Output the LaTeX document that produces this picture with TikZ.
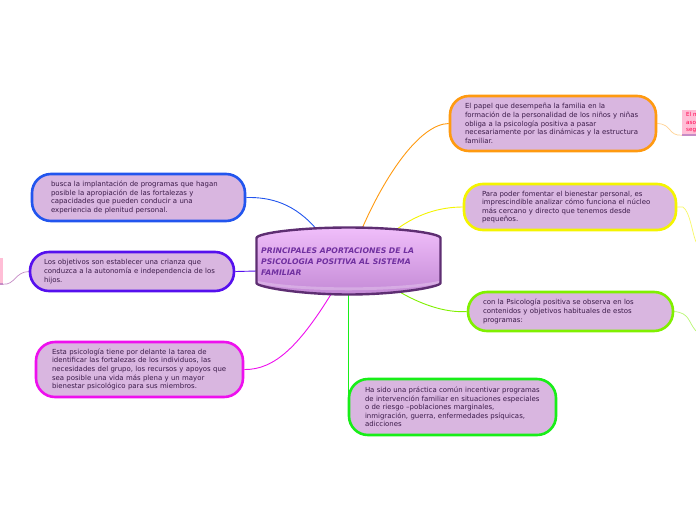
\documentclass[tikz,border=0pt]{standalone}
\usepackage{fontspec}
\setmainfont{DejaVu Sans}
\pgfdeclarelayer{bg}
\pgfsetlayers{bg,main}
\begin{document}
\begin{tikzpicture}[x=1pt,y=-1pt,
  txt/.style={font=\fontsize{6.95}{8.6}\selectfont, text=txtc, align=left},
  topic/.style={txt, draw=#1, line width=2.6pt, fill=boxfill, rounded corners=19pt, inner xsep=0pt, inner ysep=0pt},
  conn/.style={draw=#1, line width=0.9pt},
]
\definecolor{boxfill}{HTML}{D9B6E0}
\definecolor{txtc}{HTML}{3A1A48}
\definecolor{corange}{HTML}{FF9A10}
\definecolor{cyellow}{HTML}{F4F400}
\definecolor{clime}{HTML}{80F000}
\definecolor{cgreen}{HTML}{18EE18}
\definecolor{cblue}{HTML}{2255EE}
\definecolor{cviolet}{HTML}{5510EE}
\definecolor{cmagenta}{HTML}{EE10EE}
\definecolor{ctrborder}{HTML}{5E2E72}
\definecolor{ctrtext}{HTML}{7030A0}
\definecolor{ctrtop}{HTML}{F0BEFA}
\definecolor{ctrbot}{HTML}{C48AD6}
\definecolor{pinkbox}{HTML}{FFBED6}
\clip (0,0) rectangle (696,520);
\begin{pgfonlayer}{bg}
\fill[white] (0,0) rectangle (696,520);
\end{pgfonlayer}

% central node
\shade[top color=ctrtop, bottom color=ctrbot, draw=ctrborder, line width=2.4pt]
  (256.5,238) -- (256.5,283) .. controls (257,287) and (300,294.5) .. (348.5,294.5)
  .. controls (397,294.5) and (440,287) .. (440.5,283)
  -- (440.5,238) .. controls (440,233) and (397,227.5) .. (348.5,227.5)
  .. controls (300,227.5) and (257,233) .. (256.5,238) -- cycle;
\fill[white, opacity=0.25] (258,281) .. controls (300,289.5) and (397,289.5) .. (439,281) -- (439,283.5) .. controls (397,292.5) and (300,292.5) .. (258,283.5) -- cycle;
\node[minimum width=185pt, minimum height=63pt, inner sep=0pt] (ctr) at (348.5,260.5) {};
\node[anchor=west, inner sep=0pt, font=\fontsize{7.7}{11}\selectfont\bfseries\itshape, text=ctrtext, align=left] (ctrt) at (261,262)
 {PRINCIPALES APORTACIONES DE LA\\PSICOLOGIA POSITIVA AL SISTEMA\\FAMILIAR};
\coordinate (cO) at (361,231);
\coordinate (cY) at (392,233);
\coordinate (cL) at (398,291);
\coordinate (cG) at (348,292);
\coordinate (cM) at (333,291);
\coordinate (cV) at (257,271);
\coordinate (cB) at (318,231);

% topic nodes
\node[topic=corange, minimum width=206pt, minimum height=55pt, text width=176pt] (orange) at (553,123.5)
 {El papel que desempeña la familia en la\\formación de la personalidad de los niños y niñas\\obliga a la psicología positiva a pasar\\necesariamente por las dinámicas y la estructura\\familiar.};
\node[topic=cyellow, minimum width=212pt, minimum height=46pt, text width=176pt] (yellow) at (570,207)
 {Para poder fomentar el bienestar personal, es\\imprescindible analizar cómo funciona el núcleo\\más cercano y directo que tenemos desde\\pequeños.};
\node[topic=clime, minimum width=205pt, minimum height=39pt, text width=175pt] (lime) at (570.5,311.5)
 {con la Psicología positiva se observa en los\\contenidos y objetivos habituales de estos\\programas:};
\node[topic=cgreen, minimum width=207pt, minimum height=56pt, text width=175pt] (green) at (452.5,407)
 {Ha sido una práctica común incentivar programas\\de intervención familiar en situaciones especiales\\o de riesgo –poblaciones marginales,\\inmigración, guerra, enfermedades psíquicas,\\adicciones};
\node[topic=cblue, minimum width=213pt, minimum height=47pt, text width=175pt] (blue) at (138.5,197.5)
 {busca la implantación de programas que hagan\\posible la apropiación de las fortalezas y\\capacidades que pueden conducir a una\\experiencia de plenitud personal.};
\node[topic=cviolet, minimum width=204pt, minimum height=39pt, text width=176pt] (violet) at (132,271.5)
 {Los objetivos son establecer una crianza que\\conduzca a la autonomía e independencia de los\\hijos.};
\node[topic=cmagenta, minimum width=207pt, minimum height=55pt, text width=175pt] (magenta) at (139.5,369.5)
 {Esta psicología tiene por delante la tarea de\\identificar las fortalezas de los individuos, las\\necesidades del grupo, los recursos y apoyos que\\sea posible una vida más plena y un mayor\\bienestar psicológico para sus miembros.};

% small cut-off nodes at the edges
\node[fill=pinkbox, minimum width=20pt, minimum height=25pt, inner sep=0pt] (pinkR) at (692,122.5) {};
\node[anchor=north west, inner sep=0pt, font=\fontsize{5.6}{7.2}\selectfont, text=red!70!magenta, align=left] (pinkRt) at (686,112.5) {El m\\aso\\seg};
\draw[draw=violet!45, line width=1.6pt] (pinkR.south west) -- (pinkR.south east);
\node[fill=pinkbox, minimum width=6pt, minimum height=26pt, inner sep=0pt] (pinkL) at (0,271) {};
\draw[draw=violet!45, line width=1.6pt] (pinkL.south west) -- (pinkL.south east);
\coordinate (yEnd) at (696,242);
\coordinate (lEnd) at (696,331);

% connectors
\begin{pgfonlayer}{bg}
\draw[conn=corange] (cO) .. controls (385,175) and (420,124) .. (orange.west);
\draw[conn=cyellow] (cY) .. controls (415,214) and (440,207) .. (yellow.west);
\draw[conn=clime] (cL) .. controls (420,304) and (445,313) .. (lime.west);
\draw[conn=cgreen] (cG) -- (348,405);
\draw[conn=cmagenta] (cM) .. controls (300,345) and (275,370) .. (magenta.east);
\draw[conn=cviolet] (cV) -- (violet.east);
\draw[conn=cblue] (cB) .. controls (295,203) and (270,197) .. (blue.east);
\draw[conn=corange!45, line width=0.7pt] (orange.east) .. controls (672,124) and (668,136) .. (pinkR.south west);
\draw[conn=cyellow!60, line width=0.7pt] (yellow.east) -- (683,207) .. controls (690,212) and (692,232) .. (yEnd);
\draw[conn=clime!55, line width=0.7pt] (lime.east) .. controls (690,313) and (688,322) .. (lEnd);
\draw[conn=violet!45, line width=0.7pt] (violet.west) .. controls (15,272) and (15,285) .. (pinkL.south east);
\end{pgfonlayer}
\end{tikzpicture}
\end{document}
